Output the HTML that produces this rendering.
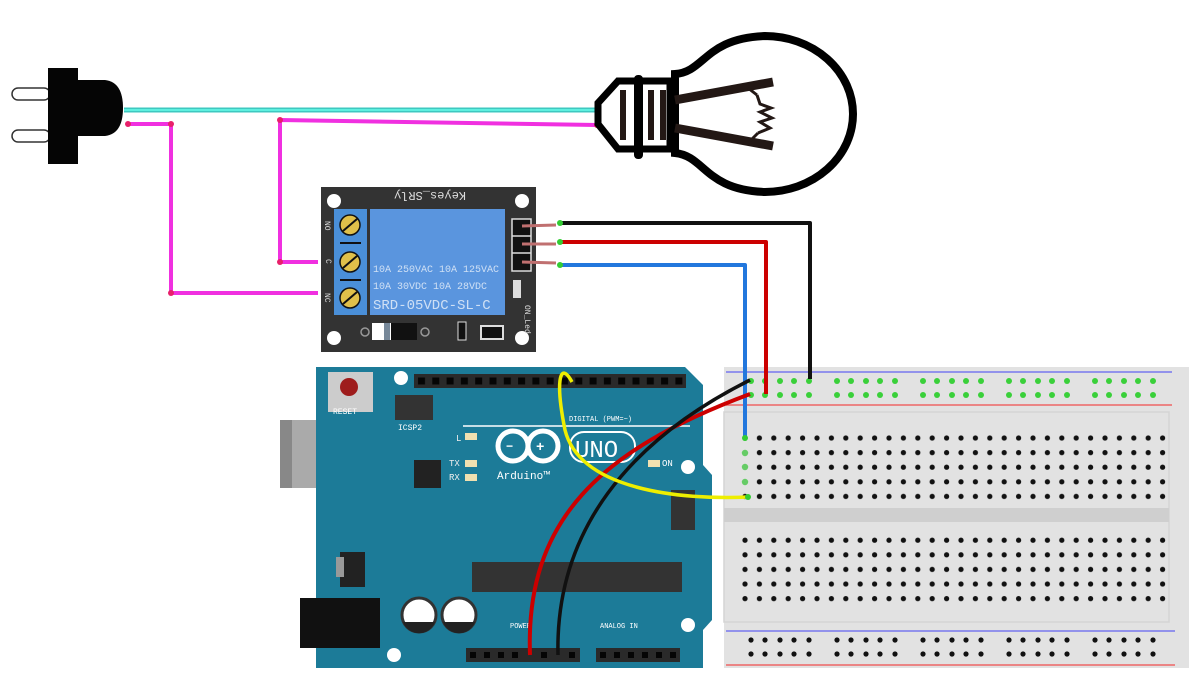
<!DOCTYPE html>
<html><head><meta charset="utf-8"><style>
html,body{margin:0;padding:0;background:#fff;width:1189px;height:687px;overflow:hidden}
svg{display:block}
text{font-family:"Liberation Mono",monospace}
</style></head><body>
<svg width="1189" height="687" viewBox="0 0 1189 687" xmlns="http://www.w3.org/2000/svg">
<defs>
<pattern id="bh" x="738" y="431" width="14.4" height="14.6" patternUnits="userSpaceOnUse">
<circle cx="7" cy="7" r="2.6" fill="#111"/>
</pattern>
<pattern id="hp" x="414" y="374" width="14.3" height="14" patternUnits="userSpaceOnUse">
<rect x="4" y="3.5" width="7" height="7" fill="#050505"/>
</pattern>
</defs>
<!-- plug -->
<rect x="12" y="88" width="38" height="12" rx="6" fill="#fff" stroke="#333" stroke-width="1.5"/>
<rect x="12" y="130" width="38" height="12" rx="6" fill="#fff" stroke="#333" stroke-width="1.5"/>
<rect x="48" y="68" width="30" height="96" fill="#050505"/>
<path d="M76 80 H105 Q123 82 123 108 Q123 134 105 136 H76 Z" fill="#050505"/>
<!-- wires mains -->
<line x1="124" y1="110" x2="597" y2="110" stroke="#3fc8c0" stroke-width="5"/>
<line x1="124" y1="110" x2="597" y2="110" stroke="#5ef0e0" stroke-width="2"/>
<g stroke="#f030e0" stroke-width="4" fill="none" stroke-linejoin="round">
<polyline points="128,124 171,124 171,293 318,293"/>
<polyline points="597,125 280,120 280,262 318,262"/>
</g>
<g fill="#e8206a"><circle cx="128" cy="124" r="3"/><circle cx="171" cy="124" r="3"/><circle cx="171" cy="293" r="3"/><circle cx="280" cy="120" r="3"/><circle cx="280" cy="262" r="3"/><circle cx="597" cy="125" r="3"/></g>
<!-- bulb -->
<path d="M675 74 C705 72 705 38 765 36 A88 78 0 1 1 765 192 C705 190 705 156 675 153 Z" fill="#fff" stroke="#000" stroke-width="8"/>
<path d="M618 81 H670 V149 H618 L598 124 V103 Z" fill="#fff" stroke="#000" stroke-width="7"/>
<rect x="634" y="75" width="9" height="84" rx="4" fill="#000"/>
<rect x="620" y="90" width="6" height="50" fill="#231815"/>
<rect x="648" y="90" width="6" height="50" fill="#231815"/>
<rect x="660" y="90" width="6" height="50" fill="#231815"/>
<g stroke="#231815" stroke-width="9"><line x1="675" y1="100" x2="773" y2="82"/><line x1="675" y1="128" x2="773" y2="146"/></g>
<polyline points="757,95 760,104 771,108 760,112 772,118 760,122 770,128 758,133" fill="none" stroke="#231815" stroke-width="3"/>
<line x1="757" y1="95" x2="748" y2="88" stroke="#231815" stroke-width="3"/>
<line x1="758" y1="133" x2="750" y2="141" stroke="#231815" stroke-width="3"/>
<!-- relay -->
<rect x="321" y="187" width="215" height="165" fill="#333"/>
<g fill="#fff"><circle cx="334" cy="201" r="7"/><circle cx="522" cy="201" r="7"/><circle cx="334" cy="338" r="7"/><circle cx="522" cy="338" r="7"/></g>
<text x="430" y="200" font-size="12" fill="#ddd" text-anchor="middle" transform="rotate(180 430 196)">Keyes_SRly</text>
<rect x="334" y="209" width="33" height="106" fill="#4a8fd8"/>
<rect x="370" y="209" width="135" height="106" fill="#5a95de"/>
<g fill="#e0c04a" stroke="#111" stroke-width="1.5"><circle cx="350" cy="225" r="10"/><circle cx="350" cy="262" r="10"/><circle cx="350" cy="298" r="10"/></g>
<g stroke="#111" stroke-width="2"><line x1="343" y1="231" x2="357" y2="219"/><line x1="343" y1="268" x2="357" y2="256"/><line x1="343" y1="304" x2="357" y2="292"/><line x1="340" y1="243" x2="361" y2="243"/><line x1="340" y1="280" x2="361" y2="280"/></g>
<g font-size="8" fill="#ddd"><text x="325" y="229" transform="rotate(90 329 225)">NO</text><text x="326" y="265" transform="rotate(90 329 262)">C</text><text x="325" y="301" transform="rotate(90 329 297)">NC</text></g>
<g fill="#cfe0f5" font-size="10"><text x="373" y="272">10A 250VAC 10A 125VAC</text><text x="373" y="289">10A  30VDC 10A  28VDC</text><text x="373" y="309" font-size="14">SRD-05VDC-SL-C</text></g>
<rect x="512" y="219" width="19" height="52" fill="#111" stroke="#ddd" stroke-width="1.5"/>
<line x1="512" y1="236" x2="531" y2="236" stroke="#ddd" stroke-width="1.5"/><line x1="512" y1="253" x2="531" y2="253" stroke="#ddd" stroke-width="1.5"/>
<rect x="513" y="280" width="8" height="18" fill="#ddd"/>
<text x="525" y="305" font-size="8" fill="#ddd" transform="rotate(90 525 305)">ON_Led</text>
<g stroke="#c07070" stroke-width="3"><line x1="522" y1="226" x2="556" y2="225"/><line x1="522" y1="244" x2="556" y2="244"/><line x1="522" y1="262" x2="556" y2="263"/></g>
<rect x="372" y="323" width="45" height="17" fill="#fff"/><rect x="391" y="323" width="26" height="17" fill="#111"/><rect x="384" y="323" width="6" height="17" fill="#789"/>
<circle cx="365" cy="332" r="4" fill="none" stroke="#999" stroke-width="1.5"/><circle cx="425" cy="332" r="4" fill="none" stroke="#999" stroke-width="1.5"/>
<rect x="458" y="322" width="8" height="18" fill="#111" stroke="#ddd"/>
<rect x="481" y="326" width="22" height="13" fill="#111" stroke="#ddd" stroke-width="2"/>
<!-- arduino -->
<rect x="280" y="420" width="44" height="68" fill="#aaa"/><rect x="280" y="420" width="12" height="68" fill="#888"/>
<path d="M316 367 H685 L703 385 V465 L712 475 V620 L703 630 V668 H316 Z" fill="#1c7b98"/>
<rect x="300" y="598" width="80" height="50" fill="#111"/>
<rect x="328" y="372" width="45" height="40" fill="#ccc"/><circle cx="349" cy="387" r="9" fill="#9e1c1c"/>
<text x="333" y="414" font-size="8" fill="#fff">RESET</text>
<g fill="#fff"><circle cx="401" cy="378" r="7"/><circle cx="688" cy="467" r="7"/><circle cx="688" cy="625" r="7"/><circle cx="394" cy="655" r="7"/></g>
<rect x="414" y="374" width="272" height="14" fill="#2a2a2a"/>
<rect x="414" y="374" width="272" height="14" fill="url(#hp)"/>
<rect x="395" y="395" width="38" height="25" fill="#333"/>
<text x="398" y="430" font-size="8" fill="#fff">ICSP2</text>
<rect x="414" y="460" width="27" height="28" fill="#222"/>
<g fill="#eee" font-size="9"><text x="456" y="441">L</text><text x="449" y="466">TX</text><text x="449" y="480">RX</text></g>
<g fill="#f0e0b0"><rect x="465" y="433" width="12" height="7"/><rect x="465" y="460" width="12" height="7"/><rect x="465" y="474" width="12" height="7"/><rect x="648" y="460" width="12" height="7"/></g>
<text x="662" y="466" font-size="9" fill="#fff">ON</text>
<text x="569" y="421" font-size="7" fill="#fff">DIGITAL (PWM=~)</text>
<line x1="463" y1="426" x2="690" y2="426" stroke="#fff" stroke-width="1.5"/>
<circle cx="513" cy="446" r="15" fill="none" stroke="#fff" stroke-width="5"/><circle cx="543" cy="446" r="15" fill="none" stroke="#fff" stroke-width="5"/>
<text x="506" y="450" font-size="12" fill="#fff" font-weight="bold">−</text><text x="536" y="451" font-size="14" fill="#fff" font-weight="bold">+</text>
<rect x="570" y="432" width="65" height="30" rx="14" fill="none" stroke="#fff" stroke-width="2"/>
<text x="575" y="457" font-size="24" fill="#fff" font-family="Liberation Sans">UNO</text>
<text x="497" y="479" font-size="11" fill="#fff">Arduino™</text>
<rect x="671" y="490" width="24" height="40" fill="#333"/>
<rect x="472" y="562" width="210" height="30" fill="#333"/>
<rect x="340" y="552" width="25" height="35" fill="#222"/><rect x="336" y="557" width="8" height="20" fill="#999"/>
<circle cx="419" cy="615" r="17" fill="#fff" stroke="#333" stroke-width="3"/><path d="M403 622 A17 17 0 0 0 435 622 Z" fill="#222"/>
<circle cx="459" cy="615" r="17" fill="#fff" stroke="#333" stroke-width="3"/><path d="M443 622 A17 17 0 0 0 475 622 Z" fill="#222"/>
<rect x="466" y="648" width="114" height="14" fill="#2a2a2a"/><rect x="596" y="648" width="84" height="14" fill="#2a2a2a"/>
<g fill="#050505"><rect x="470" y="652" width="6" height="6"/><rect x="484" y="652" width="6" height="6"/><rect x="498" y="652" width="6" height="6"/><rect x="512" y="652" width="6" height="6"/><rect x="541" y="652" width="6" height="6"/><rect x="569" y="652" width="6" height="6"/>
<rect x="600" y="652" width="6" height="6"/><rect x="614" y="652" width="6" height="6"/><rect x="628" y="652" width="6" height="6"/><rect x="642" y="652" width="6" height="6"/><rect x="656" y="652" width="6" height="6"/><rect x="670" y="652" width="6" height="6"/></g>
<g font-size="7" fill="#fff"><text x="510" y="628">POWER</text><text x="600" y="628">ANALOG IN</text></g>
<!-- breadboard -->
<rect x="724" y="367" width="465" height="301" fill="#e2e2e2"/>
<rect x="724" y="412" width="445" height="210" fill="none" stroke="#d4d4d4" stroke-width="1.5"/>
<rect x="724" y="508" width="445" height="14" fill="#cfcfcf"/>
<line x1="726" y1="372" x2="1172" y2="372" stroke="#7777ee" stroke-width="1.5"/>
<line x1="726" y1="405" x2="1172" y2="405" stroke="#ee6666" stroke-width="1.5"/>
<line x1="726" y1="631" x2="1175" y2="631" stroke="#7777ee" stroke-width="1.5"/>
<line x1="726" y1="665" x2="1175" y2="665" stroke="#ee6666" stroke-width="1.5"/>
<rect x="738" y="431" width="432" height="73" fill="url(#bh)"/>
<rect x="738" y="532" width="432" height="73" fill="url(#bh)"/>
<g id="rail">
<g fill="#3ad03a"><circle cx="751" cy="381" r="3"/><circle cx="765" cy="381" r="3"/><circle cx="780" cy="381" r="3"/><circle cx="794" cy="381" r="3"/><circle cx="809" cy="381" r="3"/><circle cx="751" cy="395" r="3"/><circle cx="765" cy="395" r="3"/><circle cx="780" cy="395" r="3"/><circle cx="794" cy="395" r="3"/><circle cx="809" cy="395" r="3"/></g>
</g>
<use href="#rail" x="86"/><use href="#rail" x="172"/><use href="#rail" x="258"/><use href="#rail" x="344"/>
<g id="rb" fill="#111"><circle cx="751" cy="640" r="2.6"/><circle cx="765" cy="640" r="2.6"/><circle cx="780" cy="640" r="2.6"/><circle cx="794" cy="640" r="2.6"/><circle cx="809" cy="640" r="2.6"/><circle cx="751" cy="654" r="2.6"/><circle cx="765" cy="654" r="2.6"/><circle cx="780" cy="654" r="2.6"/><circle cx="794" cy="654" r="2.6"/><circle cx="809" cy="654" r="2.6"/></g>
<use href="#rb" x="86"/><use href="#rb" x="172"/><use href="#rb" x="258"/><use href="#rb" x="344"/>
<g fill="#6c6" ><circle cx="745" cy="453" r="3.2"/><circle cx="745" cy="467" r="3.2"/><circle cx="745" cy="482" r="3.2"/></g>
<!-- signal wires -->
<g fill="none" stroke-linejoin="round">
<polyline points="560,223 810,223 810,379" stroke="#111" stroke-width="4"/>
<polyline points="560,242 766,242 766,394" stroke="#c00" stroke-width="4"/>
<polyline points="560,265 745,265 745,438" stroke="#2277dd" stroke-width="4"/>
<path d="M530 655 C525 520 600 450 750 394" stroke="#c00" stroke-width="4"/>
<path d="M558 655 C555 530 630 440 750 380" stroke="#111" stroke-width="3.5"/>
<path d="M572 382 C560 360 555 380 565 430 C580 490 680 500 748 497" stroke="#ee0" stroke-width="3.5"/>
</g>
<g fill="#3c3"><circle cx="560" cy="223" r="3"/><circle cx="560" cy="242" r="3"/><circle cx="560" cy="265" r="3"/><circle cx="745" cy="438" r="3"/><circle cx="748" cy="497" r="3"/></g>
</svg>
</body></html>
